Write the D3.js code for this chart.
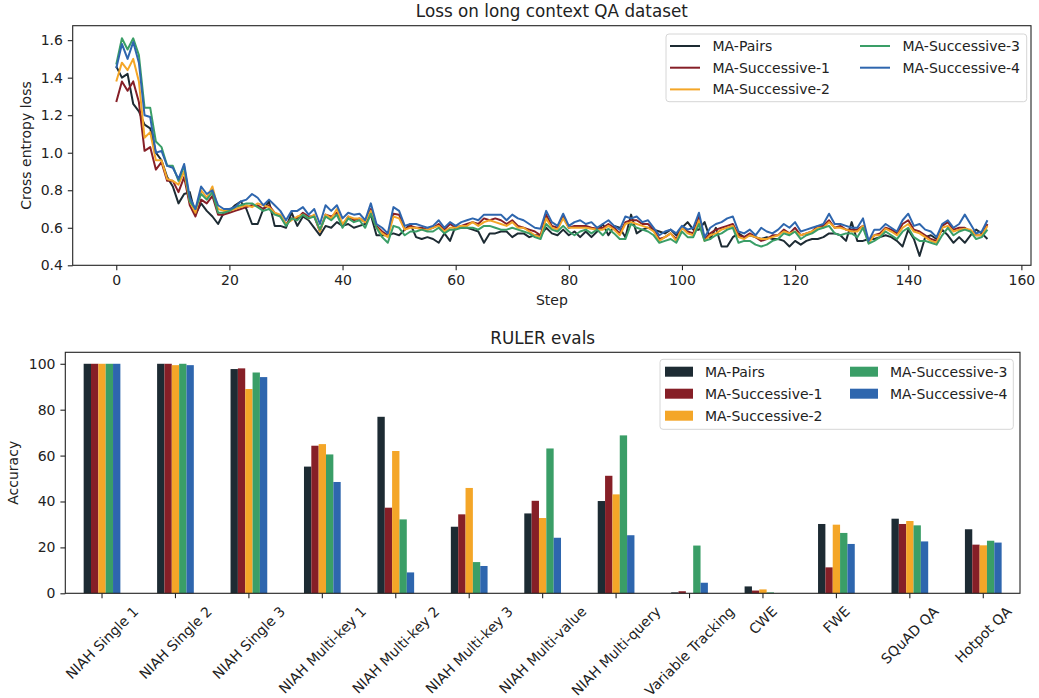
<!DOCTYPE html>
<meta charset="utf-8">
<title>Loss and RULER evals</title>
<style>
    body {
        margin: 0;
        background: #fff;
    }

    svg text {
        font-family: "DejaVu Sans", sans-serif;
        fill: #222;
    }

    .frame {
        fill: none;
        stroke: #222;
        stroke-width: 1.1px;
    }

    .loss {
        fill: none;
        stroke-width: 2px;
        stroke-linejoin: round;
    }

    .legend-box {
        fill: #fff;
        fill-opacity: 0.8;
        stroke: #d6d6d6;
        stroke-width: 1px;
    }
</style>

<body>
    <svg id="chart"></svg>
</body>

<script src="https://d3js.org/d3.v7.min.js"></script>
<script>
    // ---- data ----
    var seriesNames = ["MA-Pairs", "MA-Successive-1", "MA-Successive-2", "MA-Successive-3", "MA-Successive-4"];
    var seriesColors = ["#1d2b33", "#861f27", "#f4a628", "#3a9e67", "#2e66ae"];

    // loss per step (steps 0..154)
    var lossPairs = [
        1.46, 1.40, 1.42, 1.26, 1.22, 1.15, 1.13, 1.00, 0.96, 0.87,
        0.82, 0.73, 0.78, 0.79, 0.67, 0.73, 0.69, 0.66, 0.62, 0.68,
        0.69, 0.72, 0.74, 0.70, 0.62, 0.62, 0.70, 0.74, 0.61, 0.61,
        0.60, 0.68, 0.61, 0.66, 0.64, 0.60, 0.56, 0.61, 0.60, 0.63,
        0.61, 0.62, 0.60, 0.61, 0.62, 0.67, 0.56, 0.56, 0.56, 0.57,
        0.56, 0.59, 0.62, 0.55, 0.54, 0.55, 0.54, 0.52, 0.57, 0.53,
        0.61, 0.60, 0.60, 0.59, 0.58, 0.52, 0.57, 0.57, 0.58, 0.58,
        0.55, 0.57, 0.57, 0.55, 0.56, 0.56, 0.60, 0.57, 0.56, 0.59,
        0.56, 0.58, 0.55, 0.58, 0.55, 0.58, 0.62, 0.56, 0.61, 0.60,
        0.55, 0.67, 0.57, 0.59, 0.60, 0.59, 0.58, 0.57, 0.59, 0.56,
        0.60, 0.63, 0.59, 0.59, 0.63, 0.54, 0.60, 0.50, 0.50, 0.55,
        0.57, 0.55, 0.56, 0.55, 0.54, 0.55, 0.54, 0.54, 0.53, 0.50,
        0.53, 0.51, 0.53, 0.54, 0.54, 0.55, 0.57, 0.57, 0.56, 0.53,
        0.63, 0.53, 0.53, 0.54, 0.54, 0.55, 0.56, 0.55, 0.53, 0.50,
        0.59, 0.54, 0.45, 0.55, 0.56, 0.54, 0.59, 0.56, 0.52, 0.55,
        0.52, 0.56, 0.59, 0.57, 0.54
    ];
    var lossS1 = [
        1.27, 1.38, 1.33, 1.38, 1.27, 1.01, 1.03, 0.91, 0.95, 0.85,
        0.85, 0.79, 0.87, 0.72, 0.66, 0.75, 0.73, 0.77, 0.67, 0.67,
        0.68, 0.69, 0.70, 0.71, 0.72, 0.72, 0.70, 0.72, 0.68, 0.66,
        0.62, 0.65, 0.65, 0.68, 0.66, 0.66, 0.58, 0.67, 0.66, 0.68,
        0.61, 0.66, 0.64, 0.65, 0.63, 0.70, 0.61, 0.58, 0.56, 0.675,
        0.67, 0.59, 0.61, 0.60, 0.60, 0.59, 0.60, 0.62, 0.59, 0.62,
        0.60, 0.61, 0.62, 0.63, 0.62, 0.65, 0.64, 0.65, 0.64, 0.62,
        0.64, 0.61, 0.60, 0.59, 0.58, 0.56, 0.67, 0.61, 0.60, 0.66,
        0.60, 0.61, 0.61, 0.61, 0.60, 0.595, 0.60, 0.62, 0.60, 0.57,
        0.63, 0.64, 0.64, 0.62, 0.62, 0.59, 0.54, 0.55, 0.57, 0.54,
        0.60, 0.58, 0.57, 0.66, 0.54, 0.57, 0.59, 0.60, 0.61, 0.62,
        0.56, 0.55, 0.57, 0.55, 0.53, 0.54, 0.56, 0.56, 0.59, 0.57,
        0.60, 0.56, 0.57, 0.58, 0.61, 0.61, 0.64, 0.60, 0.61, 0.59,
        0.59, 0.59, 0.61, 0.53, 0.56, 0.57, 0.60, 0.59, 0.57, 0.62,
        0.64, 0.59, 0.58, 0.56, 0.54, 0.53, 0.61, 0.63, 0.59, 0.60,
        0.60, 0.58, 0.56, 0.56, 0.62
    ];
    var lossS2 = [
        1.38, 1.48, 1.44, 1.50, 1.38, 1.08, 1.11, 0.96, 0.96, 0.86,
        0.85, 0.83, 0.90, 0.74, 0.68, 0.80, 0.76, 0.82, 0.70, 0.69,
        0.69, 0.70, 0.71, 0.72, 0.71, 0.73, 0.72, 0.71, 0.68, 0.67,
        0.62, 0.64, 0.66, 0.67, 0.65, 0.67, 0.58, 0.67, 0.65, 0.70,
        0.62, 0.66, 0.65, 0.65, 0.63, 0.69, 0.60, 0.57, 0.55, 0.66,
        0.65, 0.59, 0.60, 0.60, 0.59, 0.59, 0.60, 0.61, 0.58, 0.60,
        0.60, 0.61, 0.61, 0.63, 0.61, 0.63, 0.64, 0.63, 0.62, 0.61,
        0.63, 0.60, 0.60, 0.58, 0.56, 0.55, 0.65, 0.60, 0.59, 0.65,
        0.60, 0.60, 0.60, 0.60, 0.595, 0.59, 0.59, 0.61, 0.59, 0.56,
        0.62, 0.63, 0.62, 0.61, 0.60, 0.58, 0.53, 0.55, 0.57, 0.53,
        0.60, 0.57, 0.56, 0.64, 0.53, 0.56, 0.57, 0.59, 0.60, 0.61,
        0.55, 0.54, 0.56, 0.55, 0.54, 0.54, 0.55, 0.56, 0.58, 0.57,
        0.58, 0.56, 0.57, 0.58, 0.60, 0.60, 0.63, 0.60, 0.60, 0.59,
        0.58, 0.58, 0.61, 0.52, 0.56, 0.56, 0.595, 0.58, 0.56, 0.60,
        0.62, 0.58, 0.57, 0.55, 0.53, 0.52, 0.60, 0.61, 0.58, 0.59,
        0.595, 0.59, 0.56, 0.56, 0.61
    ];
    var lossS3 = [
        1.47, 1.61, 1.55, 1.61, 1.52, 1.24, 1.24, 1.06, 1.03, 0.93,
        0.93, 0.85, 0.93, 0.74, 0.70, 0.78, 0.75, 0.79, 0.68, 0.68,
        0.69, 0.71, 0.72, 0.73, 0.73, 0.71, 0.69, 0.70, 0.67, 0.66,
        0.61, 0.65, 0.64, 0.67, 0.65, 0.66, 0.59, 0.66, 0.64, 0.67,
        0.60, 0.65, 0.63, 0.64, 0.60, 0.675, 0.60, 0.55, 0.52, 0.61,
        0.60, 0.56, 0.58, 0.58, 0.59, 0.58, 0.58, 0.60, 0.57, 0.59,
        0.59, 0.60, 0.60, 0.60, 0.59, 0.61, 0.61, 0.60, 0.59, 0.59,
        0.60, 0.59, 0.58, 0.57, 0.55, 0.54, 0.62, 0.59, 0.58, 0.61,
        0.58, 0.56, 0.58, 0.59, 0.57, 0.59, 0.56, 0.595, 0.57, 0.54,
        0.54, 0.62, 0.60, 0.59, 0.58, 0.56, 0.52, 0.53, 0.54, 0.52,
        0.58, 0.55, 0.55, 0.62, 0.53, 0.54, 0.56, 0.57, 0.59, 0.60,
        0.52, 0.53, 0.53, 0.51, 0.50, 0.51, 0.53, 0.54, 0.57, 0.56,
        0.58, 0.54, 0.56, 0.57, 0.59, 0.60, 0.61, 0.57, 0.56, 0.57,
        0.57, 0.55, 0.60, 0.515, 0.53, 0.55, 0.58, 0.56, 0.54, 0.58,
        0.60, 0.55, 0.53, 0.53, 0.52, 0.51, 0.56, 0.60, 0.56, 0.58,
        0.59, 0.58, 0.54, 0.55, 0.59
    ];
    var lossS4 = [
        1.45, 1.58, 1.50, 1.59, 1.48, 1.20, 1.19, 1.00, 1.01, 0.93,
        0.92, 0.86, 0.94, 0.76, 0.70, 0.82, 0.78, 0.80, 0.72, 0.70,
        0.70, 0.71, 0.74, 0.75, 0.78, 0.76, 0.72, 0.75, 0.72, 0.69,
        0.64, 0.69, 0.69, 0.71, 0.67, 0.70, 0.62, 0.72, 0.69, 0.72,
        0.65, 0.68, 0.67, 0.675, 0.64, 0.73, 0.62, 0.60, 0.57, 0.71,
        0.69, 0.61, 0.62, 0.62, 0.61, 0.60, 0.61, 0.64, 0.60, 0.63,
        0.61, 0.63, 0.64, 0.65, 0.64, 0.67, 0.67, 0.67, 0.67, 0.64,
        0.67, 0.65, 0.64, 0.62, 0.60, 0.595, 0.69, 0.63, 0.61, 0.675,
        0.61, 0.63, 0.64, 0.62, 0.63, 0.60, 0.62, 0.64, 0.61, 0.59,
        0.66, 0.65, 0.66, 0.63, 0.64, 0.60, 0.56, 0.58, 0.59, 0.57,
        0.61, 0.59, 0.60, 0.68, 0.55, 0.60, 0.62, 0.63, 0.65, 0.66,
        0.58, 0.57, 0.59, 0.56, 0.60, 0.58, 0.57, 0.59, 0.62, 0.60,
        0.63, 0.58, 0.59, 0.60, 0.61, 0.62, 0.675, 0.62, 0.62, 0.61,
        0.60, 0.60, 0.65, 0.53, 0.59, 0.59, 0.62, 0.60, 0.58, 0.64,
        0.675, 0.61, 0.62, 0.59, 0.58, 0.55, 0.62, 0.64, 0.60, 0.62,
        0.67, 0.62, 0.57, 0.58, 0.64
    ];
    var lossTicks = [0.4, 0.6, 0.8, 1.0, 1.2, 1.4, 1.6];
    var stepTicks = [0, 20, 40, 60, 80, 100, 120, 140, 160];

    // RULER accuracy
    var rulerTasks = ["NIAH Single 1", "NIAH Single 2", "NIAH Single 3", "NIAH Multi-key 1", "NIAH Multi-key 2",
        "NIAH Multi-key 3", "NIAH Multi-value", "NIAH Multi-query", "Variable Tracking", "CWE", "FWE",
        "SQuAD QA", "Hotpot QA"];
    var accPairs = [100, 100, 97.7, 55.2, 76.9, 29.0, 34.8, 40.2, 0.4, 3.0, 30.2, 32.5, 27.9];
    var accS1 = [100, 100, 98.0, 64.3, 37.3, 34.4, 40.3, 51.2, 0.9, 1.2, 11.3, 30.2, 21.2];
    var accS2 = [100, 99.4, 89.0, 65.0, 62.0, 45.9, 32.8, 43.1, 0.0, 1.7, 29.9, 31.5, 20.9];
    var accS3 = [100, 100, 96.2, 60.5, 32.2, 13.6, 63.1, 68.8, 20.8, 0.4, 26.3, 29.6, 22.9];
    var accS4 = [100, 99.4, 94.2, 48.5, 9.1, 11.9, 24.2, 25.3, 4.6, 0.0, 21.5, 22.6, 22.1];
    var accTicks = [0, 20, 40, 60, 80, 100];

    var lossSeries = [lossPairs, lossS1, lossS2, lossS3, lossS4];
    var accSeries = [accPairs, accS1, accS2, accS3, accS4];

    (function () {
        // ---- layout ----
        var W = 1039, H = 698;
        var fontSize = 14, titleSize = 16.8, tickLen = 4.9, tickPad = 4.9;

        var svg = d3.select("#chart").attr("width", W).attr("height", H);

        function styleAxis(g) {
            g.select(".domain").remove();
            g.selectAll(".tick line").attr("stroke", "#222").attr("stroke-width", 1.1);
            g.selectAll(".tick text")
                .attr("font-family", "DejaVu Sans")
                .attr("font-size", fontSize)
                .attr("fill", "#222");
        }

        // ================= top: loss lines =================
        var lossBox = { left: 72.7, right: 1031, top: 25.7, bottom: 265.3 };

        var x = d3.scaleLinear().domain([-7.7, 161.7]).range([lossBox.left, lossBox.right]);
        var y = d3.scaleLinear().domain([0.40, 1.677]).range([lossBox.bottom, lossBox.top]);

        svg.append("g")
            .attr("transform", "translate(0," + lossBox.bottom + ")")
            .call(d3.axisBottom(x).tickValues(stepTicks).tickSize(tickLen).tickPadding(tickPad).tickFormat(d3.format("d")))
            .call(styleAxis);

        svg.append("g")
            .attr("transform", "translate(" + lossBox.left + ",0)")
            .call(d3.axisLeft(y).tickValues(lossTicks).tickSize(tickLen).tickPadding(tickPad).tickFormat(d3.format(".1f")))
            .call(styleAxis);

        var line = d3.line()
            .x(function (d, i) { return x(i); })
            .y(function (d) { return y(d); });

        svg.append("clipPath").attr("id", "lossclip")
            .append("rect")
            .attr("x", lossBox.left).attr("y", lossBox.top)
            .attr("width", lossBox.right - lossBox.left).attr("height", lossBox.bottom - lossBox.top);

        svg.append("g").attr("clip-path", "url(#lossclip)")
            .selectAll("path.loss")
            .data(lossSeries)
            .join("path")
            .attr("class", "loss")
            .attr("stroke", function (d, i) { return seriesColors[i]; })
            .attr("d", line);

        svg.append("rect").attr("class", "frame")
            .attr("x", lossBox.left).attr("y", lossBox.top)
            .attr("width", lossBox.right - lossBox.left).attr("height", lossBox.bottom - lossBox.top);

        svg.append("text")
            .attr("x", (lossBox.left + lossBox.right) / 2).attr("y", lossBox.top - 8.3)
            .attr("text-anchor", "middle").attr("font-size", titleSize)
            .text("Loss on long context QA dataset");

        svg.append("text")
            .attr("x", (lossBox.left + lossBox.right) / 2).attr("y", 305)
            .attr("text-anchor", "middle").attr("font-size", fontSize)
            .text("Step");

        svg.append("text")
            .attr("transform", "translate(31," + (lossBox.top + lossBox.bottom) / 2 + ") rotate(-90)")
            .attr("text-anchor", "middle").attr("font-size", fontSize)
            .text("Cross entropy loss");

        // legend (lines)
        var lg1 = svg.append("g");
        lg1.append("rect").attr("class", "legend-box")
            .attr("x", 666).attr("y", 34).attr("width", 360.7).attr("height", 67.7).attr("rx", 3);
        var legendCols = [[0, 1, 2], [3, 4]];
        var colX = [670, 860];
        legendCols.forEach(function (col, c) {
            col.forEach(function (s, r) {
                var cy = 46 + r * 21.7;
                lg1.append("line")
                    .attr("x1", colX[c]).attr("x2", colX[c] + 30)
                    .attr("y1", cy).attr("y2", cy)
                    .attr("stroke", seriesColors[s]).attr("stroke-width", 2);
                lg1.append("text")
                    .attr("x", colX[c] + 42.5).attr("y", cy + 5)
                    .attr("font-size", fontSize)
                    .text(seriesNames[s]);
            });
        });

        // ================= bottom: RULER bars =================
        var barBox = { left: 65.3, right: 1020, top: 352.3, bottom: 593.3 };

        var xg = d3.scaleBand().domain(rulerTasks).range([barBox.left, barBox.right])
            .paddingInner(0.5).paddingOuter(0.25);
        var xs = d3.scaleBand().domain(d3.range(seriesNames.length)).range([0, xg.bandwidth()]);
        var ya = d3.scaleLinear().domain([0, 105]).range([barBox.bottom, barBox.top]);

        svg.append("g")
            .attr("transform", "translate(0," + barBox.bottom + ")")
            .call(d3.axisBottom(xg).tickSize(tickLen).tickFormat(""))
            .call(styleAxis);

        svg.append("g")
            .attr("transform", "translate(" + barBox.left + ",0)")
            .call(d3.axisLeft(ya).tickValues(accTicks).tickSize(tickLen).tickPadding(tickPad))
            .call(styleAxis);

        var groups = svg.append("g")
            .selectAll("g.series")
            .data(accSeries)
            .join("g")
            .attr("class", "series")
            .attr("fill", function (d, i) { return seriesColors[i]; });

        groups.each(function (vals, si) {
            d3.select(this).selectAll("rect")
                .data(vals)
                .join("rect")
                .attr("x", function (d, i) { return xg(rulerTasks[i]) + xs(si); })
                .attr("width", xs.bandwidth())
                .attr("y", function (d) { return ya(d); })
                .attr("height", function (d) { return ya(0) - ya(d); });
        });

        svg.append("rect").attr("class", "frame")
            .attr("x", barBox.left).attr("y", barBox.top)
            .attr("width", barBox.right - barBox.left).attr("height", barBox.bottom - barBox.top);

        // rotated category labels, centred under each tick
        var labelTop = barBox.bottom + tickLen + tickPad;
        var labelH = fontSize * 1.17;
        svg.append("g").selectAll("text.cat")
            .data(rulerTasks)
            .join("text")
            .attr("class", "cat")
            .attr("font-size", fontSize)
            .attr("text-anchor", "middle")
            .attr("dy", "0.35em")
            .text(function (d) { return d; })
            .attr("transform", function (d) {
                var w = this.getComputedTextLength();
                var half = (w + labelH) / (2 * Math.SQRT2);
                var cx = xg(d) + xg.bandwidth() / 2;
                return "translate(" + cx + "," + (labelTop + half) + ") rotate(-45)";
            });

        svg.append("text")
            .attr("x", (barBox.left + barBox.right) / 2).attr("y", barBox.top - 8.3)
            .attr("text-anchor", "middle").attr("font-size", titleSize)
            .text("RULER evals");

        svg.append("text")
            .attr("transform", "translate(18," + (barBox.top + barBox.bottom) / 2 + ") rotate(-90)")
            .attr("text-anchor", "middle").attr("font-size", fontSize)
            .text("Accuracy");

        // legend (patches)
        var lg2 = svg.append("g");
        lg2.append("rect").attr("class", "legend-box")
            .attr("x", 660).attr("y", 359.3).attr("width", 353.3).attr("height", 70).attr("rx", 3);
        var patchX = [665, 850];
        legendCols.forEach(function (col, c) {
            col.forEach(function (s, r) {
                var cy = 371.7 + r * 22;
                lg2.append("rect")
                    .attr("x", patchX[c]).attr("y", cy - 5)
                    .attr("width", 28).attr("height", 10)
                    .attr("fill", seriesColors[s]);
                lg2.append("text")
                    .attr("x", patchX[c] + 40).attr("y", cy + 5)
                    .attr("font-size", fontSize)
                    .text(seriesNames[s]);
            });
        });
    })();
</script>
